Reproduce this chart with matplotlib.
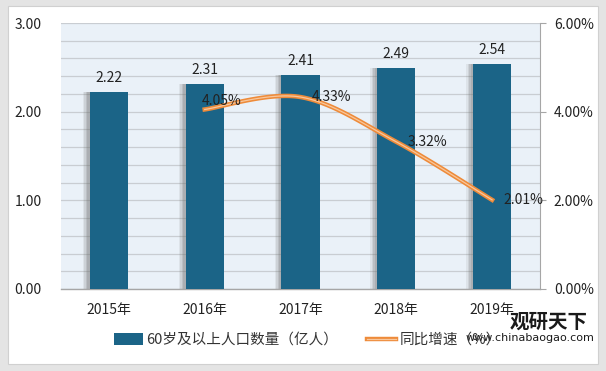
import matplotlib.pyplot as plt
import matplotlib.patheffects as pe
import numpy as np
from matplotlib.patches import Rectangle
from matplotlib.lines import Line2D

plt.rcParams["font.family"] = ["Noto Sans CJK SC", "DejaVu Sans"]

years = ["2015年", "2016年", "2017年", "2018年", "2019年"]
population = [2.22, 2.31, 2.41, 2.49, 2.54]
growth_years_idx = [1, 2, 3, 4]
growth = [4.05, 4.33, 3.32, 2.01]

BAR_COLOR = "#1B6487"
LINE_COLOR = "#EE8B3A"
BG_COLOR = "#EAF1F8"
GRID_COLOR = "#C9CDD2"


def smooth_curve(xs, ys, n=40):
    # Excel-style smoothed line: cubic bezier with catmull-rom tangents
    pts = np.column_stack([xs, ys]).astype(float)
    out = []
    for i in range(len(pts) - 1):
        p0 = pts[max(i - 1, 0)]
        p1 = pts[i]
        p2 = pts[i + 1]
        p3 = pts[min(i + 2, len(pts) - 1)]
        c1 = p1 + (p2 - p0) / 6.0
        c2 = p2 - (p3 - p1) / 6.0
        t = np.linspace(0, 1, n)[:, None]
        seg = ((1 - t) ** 3) * p1 + 3 * ((1 - t) ** 2) * t * c1 + 3 * (1 - t) * t ** 2 * c2 + t ** 3 * p2
        out.append(seg if i == 0 else seg[1:])
    out = np.vstack(out)
    return out[:, 0], out[:, 1]


line_fx = [pe.Stroke(linewidth=3.2, foreground=LINE_COLOR), pe.Normal()]

fig = plt.figure(figsize=(6.06, 3.71), dpi=100, facecolor="#E4E4E4")
fig.patches.append(Rectangle((8 / 606, 1 - 364 / 371), 590 / 606, 358 / 371,
                             transform=fig.transFigure, facecolor="white",
                             edgecolor="#D0D0D0", linewidth=0.8, zorder=-10))

ax = fig.add_axes([61 / 606, 1 - 289 / 371, 479 / 606, 266 / 371])
ax.set_facecolor(BG_COLOR)
x = np.arange(len(years))

# bar shadows (soft, offset to the left)
for k, a in [(0.07, 0.10), (0.055, 0.14), (0.04, 0.18), (0.025, 0.2)]:
    ax.bar(x - k, population, width=0.4, color="#6E6E6E", alpha=a, zorder=2, linewidth=0)
ax.bar(x, population, width=0.4, color=BAR_COLOR, zorder=3, linewidth=0)

for xi, v in zip(x, population):
    ax.annotate(f"{v:.2f}", (xi, v), xytext=(0, 5), textcoords="offset points",
                ha="center", va="bottom", fontsize=10, color="#222222", zorder=5)

ax.set_xlim(-0.5, len(years) - 0.5)
ax.set_ylim(0, 3)
ax.set_yticks([0, 1, 2, 3])
ax.set_yticks(np.arange(0, 3.01, 0.2), minor=True)
ax.set_yticklabels(["0.00", "1.00", "2.00", "3.00"])
ax.grid(axis="y", which="both", color=GRID_COLOR, linewidth=0.9, zorder=1)
ax.set_axisbelow(True)
ax.set_xticks(x)
ax.set_xticklabels(years)
ax.tick_params(axis="x", length=0, pad=10, labelsize=10, labelcolor="#222222")
ax.tick_params(axis="y", which="both", length=0, pad=14, labelsize=10, labelcolor="#222222")
for s in ["top", "right", "left"]:
    ax.spines[s].set_visible(False)
ax.spines["bottom"].set_color("#A6A6A6")
ax.spines["bottom"].set_linewidth(1.0)

ax2 = ax.twinx()
ax2.set_ylim(0, 6)
ax2.set_yticks([0, 2, 4, 6])
ax2.set_yticklabels(["0.00%", "2.00%", "4.00%", "6.00%"])
ax2.tick_params(axis="y", length=4, width=0.8, color="#A6A6A6", pad=6,
                labelsize=10, labelcolor="#222222")
for s in ["top", "left", "bottom"]:
    ax2.spines[s].set_visible(False)
ax2.spines["right"].set_color("#A6A6A6")

sx, sy = smooth_curve(growth_years_idx, growth)
ax2.plot(sx, sy, color="#F8C79C", linewidth=0.9, zorder=4, path_effects=line_fx)

label_offsets = [(-2, 6), (8, 0), (8, 0), (8, 0)]
for xi, v, off in zip(growth_years_idx, growth, label_offsets):
    ax2.annotate(f"{v:.2f}%", (xi, v), xytext=off, textcoords="offset points",
                 ha="left", va="center", fontsize=10, color="#222222", zorder=6)

handles = [Rectangle((0, 0), 1, 1, facecolor=BAR_COLOR),
           Line2D([0], [0], color="#F8C79C", linewidth=0.9, path_effects=line_fx)]
fig.legend(handles, ["60岁及以上人口数量（亿人）", "同比增速（%）"],
           loc="center", bbox_to_anchor=(0.507, 1 - 340 / 371), ncol=2, frameon=False,
           fontsize=10.5, handlelength=2.0, handleheight=0.8, handletextpad=0.2,
           columnspacing=2.0, labelcolor="#333333")

fig.text(549 / 606, 1 - 322 / 371, "观研天下", ha="center", va="center",
         fontsize=14, fontweight="bold", color="#1A1A1A")
fig.text(530 / 606, 1 - 338 / 371, "www.chinabaogao.com", ha="center", va="center",
         fontsize=8, color="#1A1A1A", family="DejaVu Sans",
         bbox=dict(facecolor="white", edgecolor="none", alpha=0.6, pad=0.5))

fig.savefig("out.png", dpi=100, facecolor=fig.get_facecolor())
